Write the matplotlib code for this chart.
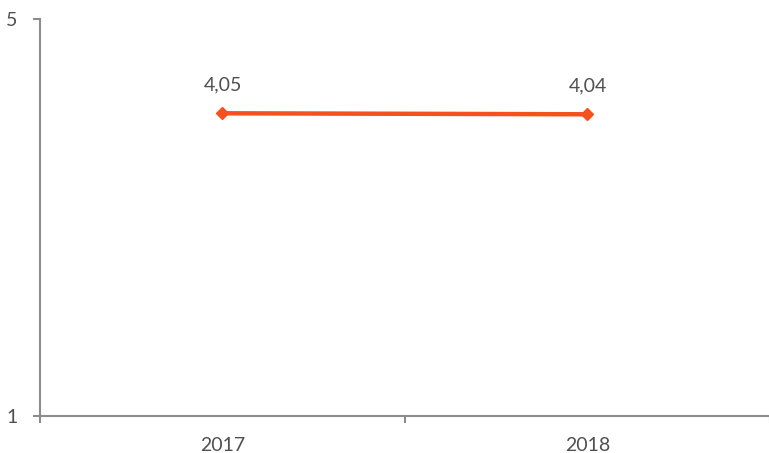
import matplotlib
matplotlib.use("Agg")
import matplotlib.pyplot as plt
from matplotlib.ticker import FixedLocator

categories = ["2017", "2018"]
values = [4.05, 4.04]
labels = ["4,05", "4,04"]
yticks = [1, 5]

plt.rcParams['font.family'] = ['Lato', 'DejaVu Sans']

fig = plt.figure(figsize=(7.69, 4.53), dpi=100)
ax = fig.add_axes([40/769, 37/453, 730/769, 397/453])

x = list(range(len(categories)))
ax.plot(x, values, color='#F4511E', linewidth=3.2, marker='D', markersize=6, zorder=3)
for xi, v, lab in zip(x, values, labels):
    ax.annotate(lab, (xi, v), xytext=(0, 14), textcoords='offset points',
                ha='center', va='bottom', fontsize=14, color='#505050')

ax.set_xlim(-0.5, len(categories) - 0.5)
ax.set_ylim(1, 5)
ax.set_yticks(yticks)
ax.set_yticklabels([str(t) for t in yticks])
ax.set_xticks(x)
ax.set_xticklabels(categories)
ax.xaxis.set_minor_locator(FixedLocator([i - 0.5 for i in range(len(categories) + 1)]))

for s in ['top', 'right']:
    ax.spines[s].set_visible(False)
for s in ['left', 'bottom']:
    ax.spines[s].set_color('#8c8c8c')
    ax.spines[s].set_linewidth(1.5)

ax.tick_params(axis='y', length=5, width=1.5, color='#8c8c8c', labelsize=14, labelcolor='#505050', pad=11)
ax.tick_params(axis='x', which='major', length=0, labelsize=14, labelcolor='#505050', pad=15)
ax.tick_params(axis='x', which='minor', length=5, width=1.5, color='#8c8c8c')

fig.savefig("out.png", dpi=100)
